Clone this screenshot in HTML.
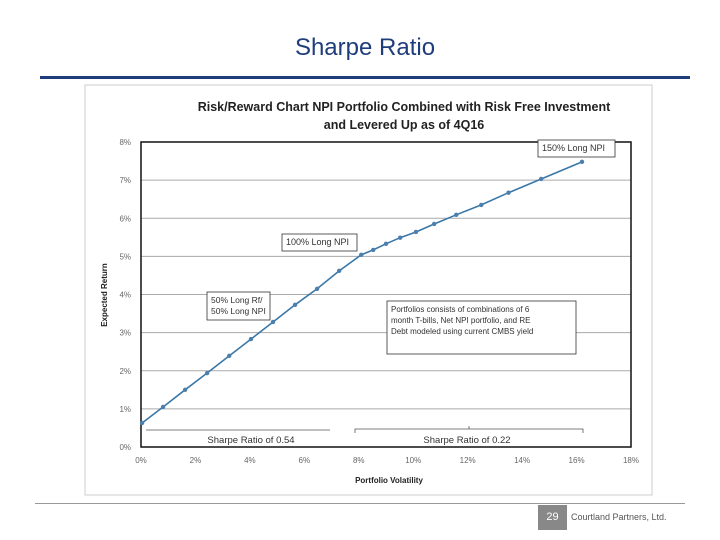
<!DOCTYPE html>
<html><head><meta charset="utf-8"><style>
body{margin:0;width:720px;height:540px;background:#fff;font-family:"Liberation Sans",sans-serif;overflow:hidden;position:relative}
</style></head><body>
<div style="position:absolute;left:0;width:730px;top:34px;text-align:center;font-size:24px;color:#1f3d7a">Sharpe Ratio</div>
<div style="position:absolute;left:40px;top:76px;width:650px;height:3px;background:#1f3d7a"></div>
<svg id="c" width="720" height="540" style="position:absolute;left:0;top:0" xmlns="http://www.w3.org/2000/svg"></svg>
<div style="position:absolute;left:35px;top:503px;width:650px;height:1px;background:#999"></div>
<div style="position:absolute;left:538px;top:505px;width:29px;height:25px;background:#888;color:#fff;font-size:11px;text-align:center;line-height:25px">29</div>
<div style="position:absolute;left:571px;top:512px;font-size:9px;color:#555">Courtland Partners, Ltd.</div>
<script>
const xTicks=[0,2,4,6,8,10,12,14,16,18];
const yTicks=[0,1,2,3,4,5,6,7,8];
const vol=[0.04,0.81,1.62,2.43,3.24,4.04,4.85,5.66,6.47,7.28,8.09,8.53,9.0,9.52,10.1,10.77,11.58,12.5,13.5,14.7,16.2];
const ret=[0.63,1.05,1.5,1.94,2.39,2.83,3.28,3.73,4.15,4.62,5.04,5.17,5.33,5.49,5.64,5.85,6.09,6.35,6.67,7.03,7.48];
const svg=document.getElementById('c');const NS='http://www.w3.org/2000/svg';
const X0=141,X1=631,Y0=447,Y1=142;
const sx=v=>X0+(X1-X0)*v/18, sy=v=>Y0-(Y0-Y1)*v/8;
function el(t,a,txt){const e=document.createElementNS(NS,t);for(const k in a)e.setAttribute(k,a[k]);if(txt!=null)e.textContent=txt;svg.appendChild(e);return e;}
let e=el('rect',{x:85,y:85,width:567,height:410,fill:'#fff',stroke:'#ccc'});

e=el('text',{x:404,y:111,'text-anchor':'middle','font-size':12.5,'font-weight':'bold',fill:'#222'},'Risk/Reward Chart NPI Portfolio Combined with Risk Free Investment');

e=el('text',{x:404,y:129,'text-anchor':'middle','font-size':12.5,'font-weight':'bold',fill:'#222'},'and Levered Up as of 4Q16');

yTicks.forEach(t=>{
 if(t>0&&t<8){e=el('line',{x1:X0,x2:X1,y1:sy(t),y2:sy(t),stroke:'#aaa'});}
 e=el('text',{x:X0-10,y:sy(t)+3,'text-anchor':'end','font-size':8,fill:'#666'},t+'%');
 
});
xTicks.forEach(t=>{
 e=el('text',{x:sx(t),y:Y0+16,'text-anchor':'middle','font-size':8,fill:'#666'},t+'%');
 
});
e=el('rect',{x:X0,y:Y1,width:X1-X0,height:Y0-Y1,fill:'none',stroke:'#111','stroke-width':1.5});

e=el('text',{x:389,y:483,'text-anchor':'middle','font-size':8,'font-weight':'bold',fill:'#222'},'Portfolio Volatility');

e=el('text',{x:107,y:295,'text-anchor':'middle','font-size':8,'font-weight':'bold',fill:'#222',transform:'rotate(-90 107 295)'},'Expected Return');

e=el('polyline',{points:vol.map((v,i)=>sx(v)+','+sy(ret[i])).join(' '),fill:'none',stroke:'#3a78a8','stroke-width':1.6});

vol.forEach((v,i)=>{e=el('circle',{cx:sx(v),cy:sy(ret[i]),r:2.2,fill:'#4a7fae'});});
function box(x,y,w,h,lines,name,fs){
 e=el('rect',{x:x,y:y,width:w,height:h,fill:'#fff',stroke:'#333','stroke-width':0.8});
 
 lines.forEach((l,i)=>{e=el('text',{x:x+4,y:y+11+i*11,'font-size':fs||8.5,fill:'#333'},l);});
}
box(282,234,75,17,['100% Long NPI'],'label-100-npi',9);
box(207,292,63,28,['50% Long Rf/','50% Long NPI'],'label-50-npi');
box(538,140,77,17,['150% Long NPI'],'label-150-npi',9);
box(387,301,189,53,['Portfolios consists of combinations of 6','month T-bills, Net NPI portfolio, and RE','Debt modeled using current CMBS yield'],'note-box',8);
e=el('path',{d:'M146 430 H330 M355 433 V429 H583 V433 M469 429 V426',fill:'none',stroke:'#555','stroke-width':0.8});

e=el('text',{x:251,y:443,'text-anchor':'middle','font-size':9.5,fill:'#333'},'Sharpe Ratio of 0.54');

e=el('text',{x:467,y:443,'text-anchor':'middle','font-size':9.5,fill:'#333'},'Sharpe Ratio of 0.22');

</script>
</body></html>
